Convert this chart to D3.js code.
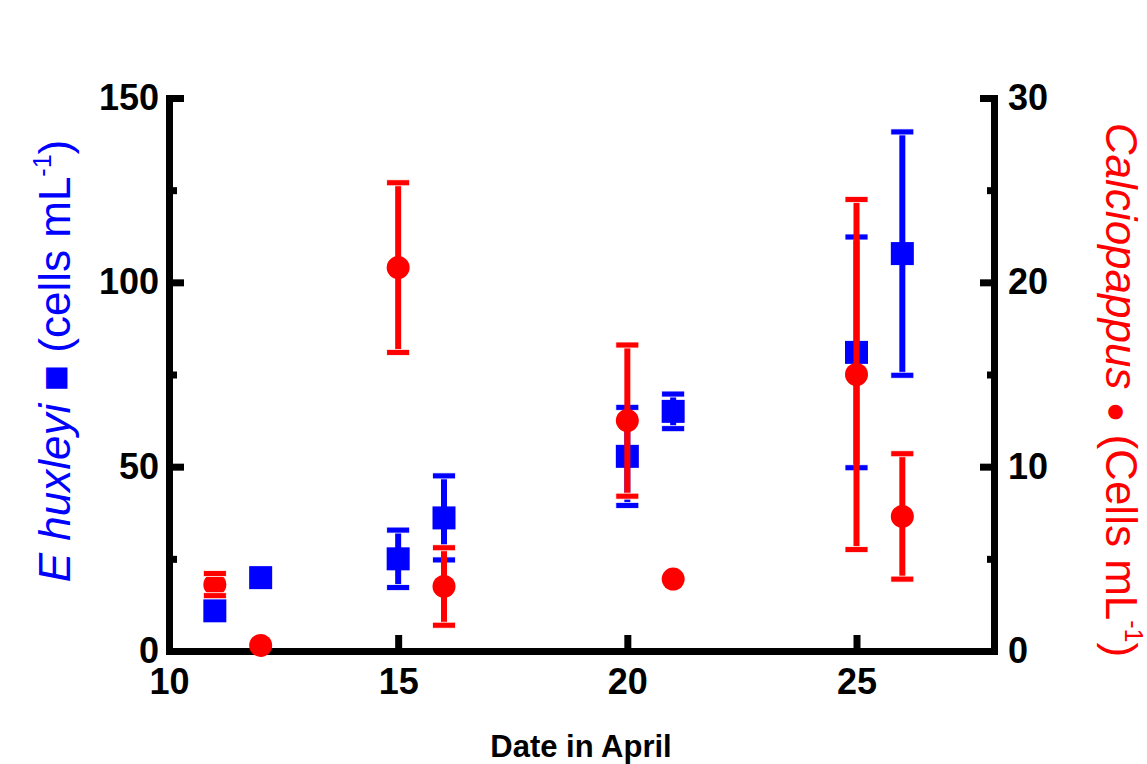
<!DOCTYPE html>
<html>
<head>
<meta charset="utf-8">
<script src="https://cdn.jsdelivr.net/npm/d3@7"></script>
<style>
body { margin: 0; background: #fff; }
text { font-family: "Liberation Sans", Arial, sans-serif; }
</style>
</head>
<body>
<svg id="chart" width="1147" height="764"></svg>
<script>
// values
var days = [11, 12, 15, 16, 20, 21, 25, 26];
var ehuxMean = [10.9, 19.9, 25.0, 36.1, 52.8, 65.0, 81.0, 107.8];
var ehuxErr = [0, 0, 7.8, 11.4, 13.3, 4.7, 31.3, 33.0];
var calcMean = [3.6, 0.3, 20.8, 3.5, 12.5, 3.9, 15.0, 7.3];
var calcErr = [0.6, 0, 4.6, 2.1, 4.1, 0, 9.5, 3.4];

var xTicks = [10, 15, 20, 25];
var leftTicks = [0, 50, 100, 150];
var leftMinor = [25, 75, 125];
var rightTicks = [0, 10, 20, 30];
var rightMinor = [5, 15, 25];

var blue = "#0000ff";
var red = "#ff0000";

var svg = d3.select("#chart");

var xScale = d3.scaleLinear().domain([10, 28]).range([169, 994]);
var yLeft = d3.scaleLinear().domain([0, 150]).range([651, 98]);
var yRight = d3.scaleLinear().domain([0, 30]).range([651, 98]);

// style an axis group: thick black lines, bold labels
function styleAxis(g){
	g.select(".domain")
		.attr("stroke", "#000")
		.attr("stroke-width", 7)
		.attr("stroke-linecap", "square");
	g.selectAll(".tick line")
		.attr("stroke", "#000")
		.attr("stroke-width", 7);
	g.selectAll(".tick text")
		.attr("fill", "#000")
		.attr("font-size", 36)
		.attr("font-weight", "bold")
		.attr("font-family", "'Liberation Sans', Arial, sans-serif");
}

// minor ticks first, without labels or domain
svg.append("g")
	.attr("transform", "translate(" + xScale.range()[0] + ",0)")
	.call(d3.axisLeft(yLeft).tickValues(leftMinor).tickSizeInner(-8).tickSizeOuter(0).tickFormat(""))
	.call(styleAxis)
	.call(function(g){ g.select(".domain").remove(); });

svg.append("g")
	.attr("transform", "translate(" + xScale.range()[1] + ",0)")
	.call(d3.axisRight(yRight).tickValues(rightMinor).tickSizeInner(-7).tickSizeOuter(0).tickFormat(""))
	.call(styleAxis)
	.call(function(g){ g.select(".domain").remove(); });

// major axes, ticks pointing inward
svg.append("g")
	.attr("transform", "translate(" + xScale.range()[0] + ",0)")
	.call(d3.axisLeft(yLeft).tickValues(leftTicks).tickSizeInner(-15).tickSizeOuter(0).tickPadding(10))
	.call(styleAxis);

svg.append("g")
	.attr("transform", "translate(" + xScale.range()[1] + ",0)")
	.call(d3.axisRight(yRight).tickValues(rightTicks).tickSizeInner(-14).tickSizeOuter(0).tickPadding(14))
	.call(styleAxis);

svg.append("g")
	.attr("transform", "translate(0," + yLeft.range()[0] + ")")
	.call(d3.axisBottom(xScale).tickValues(xTicks).tickSizeInner(-16).tickSizeOuter(0).tickPadding(17))
	.call(styleAxis);

// one series: stems, markers, then caps with a thin white edge
function drawSeries(id, means, errs, yScale, color, shape){
	var data = days.map(function(d, i){
		return {day: d, mean: means[i], err: errs[i]};
	});
	var withErr = data.filter(function(d){ return d.err > 0; });
	var g = svg.append("g").attr("id", id);

	g.selectAll("line.stem")
		.data(withErr)
		.enter().append("line")
		.attr("class", "stem")
		.attr("x1", function(d){ return xScale(d.day); })
		.attr("x2", function(d){ return xScale(d.day); })
		.attr("y1", function(d){ return yScale(d.mean + d.err); })
		.attr("y2", function(d){ return yScale(d.mean - d.err); })
		.attr("stroke", color)
		.attr("stroke-width", 6);

	if (shape == "square"){
		g.selectAll("rect.marker")
			.data(data)
			.enter().append("rect")
			.attr("class", "marker")
			.attr("x", function(d){ return xScale(d.day) - 11.5; })
			.attr("y", function(d){ return yScale(d.mean) - 11.5; })
			.attr("width", 23)
			.attr("height", 23)
			.attr("fill", color);
	} else {
		g.selectAll("circle.marker")
			.data(data)
			.enter().append("circle")
			.attr("class", "marker")
			.attr("cx", function(d){ return xScale(d.day); })
			.attr("cy", function(d){ return yScale(d.mean); })
			.attr("r", 11.5)
			.attr("fill", color);
	}

	var caps = [];
	withErr.forEach(function(d){
		caps.push({day: d.day, v: d.mean + d.err});
		caps.push({day: d.day, v: d.mean - d.err});
	});
	g.selectAll("rect.cap")
		.data(caps)
		.enter().append("rect")
		.attr("class", "cap")
		.attr("x", function(d){ return xScale(d.day) - 11.5; })
		.attr("y", function(d){ return yScale(d.v) - 3; })
		.attr("width", 23)
		.attr("height", 6)
		.attr("fill", color)
		.attr("stroke", "#fff")
		.attr("stroke-width", 0.8);
}

drawSeries("ehux", ehuxMean, ehuxErr, yLeft, blue, "square");
drawSeries("calc", calcMean, calcErr, yRight, red, "circle");

// axis titles
svg.append("text")
	.attr("x", 581)
	.attr("y", 757)
	.attr("text-anchor", "middle")
	.attr("font-size", 31)
	.attr("font-weight", "bold")
	.attr("fill", "#000")
	.text("Date in April");

var leftTitle = svg.append("text")
	.attr("transform", "translate(70,361) rotate(-90)")
	.attr("text-anchor", "middle")
	.attr("font-size", 44)
	.attr("fill", blue);
leftTitle.append("tspan").attr("font-style", "italic").text("E huxleyi");
leftTitle.append("tspan").text(" \u25A0 (cells mL");
leftTitle.append("tspan").attr("font-size", 25).attr("dy", -19).text("-1");
leftTitle.append("tspan").attr("dy", 19).text(")");

var rightTitle = svg.append("text")
	.attr("transform", "translate(1106,390) rotate(90)")
	.attr("text-anchor", "middle")
	.attr("font-size", 44)
	.attr("fill", red);
rightTitle.append("tspan").attr("font-style", "italic").text("Calciopappus");
rightTitle.append("tspan").text(" ");
rightTitle.append("tspan").attr("font-size", 34).text("\u25CF");
rightTitle.append("tspan").text(" (Cells mL");
rightTitle.append("tspan").attr("font-size", 25).attr("dy", -19).text("-1");
rightTitle.append("tspan").attr("dy", 19).text(")");
</script>
</body>
</html>
